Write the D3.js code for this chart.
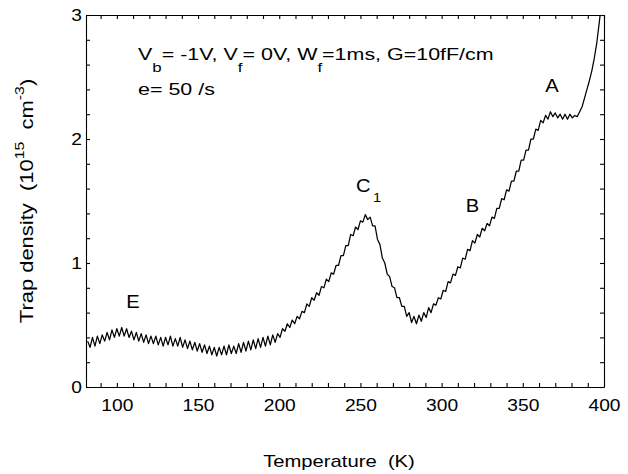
<!DOCTYPE html>
<html>
<head>
<meta charset="utf-8">
<script src="https://cdn.jsdelivr.net/npm/d3@7"></script>
<style>
  body { margin: 0; background: #fff; }
  svg { font-family: Arial, "Liberation Sans", sans-serif; }
  text { white-space: pre; }
</style>
</head>
<body>
<script>
// trap density vs temperature (DLTS style scan)

var temps = [
  82, 83.5, 85, 86.5, 88, 89.5, 91, 92.5, 94, 95.5,
  97, 98.5, 100, 101.5, 103, 104.5, 106, 107.5, 109, 110.5,
  112, 113.5, 115, 116.5, 118, 119.5, 121, 122.5, 124, 125.5,
  127, 128.5, 130, 131.5, 133, 134.5, 136, 137.5, 139, 140.5,
  142, 143.5, 145, 146.5, 148, 149.5, 151, 152.5, 154, 155.5,
  157, 158.5, 160, 161.5, 163, 164.5, 166, 167.5, 169, 170.5,
  172, 173.5, 175, 176.5, 178, 179.5, 181, 182.5, 184, 185.5,
  187, 188.5, 190, 191.5, 193, 194.5, 196, 197.5, 199, 200.5,
  202, 203.5, 205, 206.5, 208, 209.5, 211, 212.5, 214, 215.5,
  217, 218.5, 220, 221.5, 223, 224.5, 226, 227.5, 229, 230.5,
  232, 233.5, 235, 236.5, 238, 239.5, 241, 242.5, 244, 245.5,
  247, 248.5, 250, 251.5, 253, 254.5, 256, 257.5, 259, 260.5,
  262, 263.5, 265, 266.5, 268, 269.5, 271, 272.5, 274, 275.5,
  277, 278.5, 280, 281.5, 283, 284.5, 286, 287.5, 289, 290.5,
  292, 293.5, 295, 296.5, 298, 299.5, 301, 302.5, 304, 305.5,
  307, 308.5, 310, 311.5, 313, 314.5, 316, 317.5, 319, 320.5,
  322, 323.5, 325, 326.5, 328, 329.5, 331, 332.5, 334, 335.5,
  337, 338.5, 340, 341.5, 343, 344.5, 346, 347.5, 349, 350.5,
  352, 353.5, 355, 356.5, 358, 359.5, 361, 362.5, 364, 365.5,
  367, 368.5, 370, 371.5, 373, 374.5, 376, 377.5, 379, 380.5,
  382, 383.5, 385, 386.5, 388, 389.5, 391, 392.5, 394, 395.5,
  397, 398.5
];

var density = [
  0.37, 0.32, 0.40, 0.33, 0.41, 0.35, 0.42, 0.37, 0.44, 0.38,
  0.46, 0.40, 0.47, 0.41, 0.48, 0.41, 0.47, 0.40, 0.45, 0.38,
  0.44, 0.37, 0.43, 0.36, 0.42, 0.35, 0.41, 0.35, 0.41, 0.34,
  0.40, 0.33, 0.40, 0.34, 0.41, 0.33, 0.39, 0.33, 0.40, 0.32,
  0.38, 0.31, 0.37, 0.30, 0.36, 0.29, 0.35, 0.28, 0.34, 0.27,
  0.33, 0.26, 0.32, 0.25, 0.32, 0.26, 0.33, 0.26, 0.34, 0.27,
  0.33, 0.27, 0.35, 0.28, 0.36, 0.29, 0.37, 0.30, 0.38, 0.31,
  0.39, 0.32, 0.40, 0.33, 0.41, 0.34, 0.42, 0.36, 0.43, 0.40,
  0.47, 0.45, 0.51, 0.48, 0.54, 0.51, 0.57, 0.55, 0.61, 0.60,
  0.67, 0.65, 0.72, 0.70, 0.76, 0.74, 0.81, 0.80, 0.87, 0.85,
  0.92, 0.91, 0.98, 0.98, 1.06, 1.06, 1.14, 1.14, 1.23, 1.22,
  1.29, 1.27, 1.34, 1.33, 1.39, 1.35, 1.37, 1.30, 1.30, 1.19,
  1.15, 1.04, 1.00, 0.91, 0.89, 0.81, 0.80, 0.72, 0.72, 0.65,
  0.65, 0.57, 0.60, 0.52, 0.57, 0.51, 0.58, 0.53, 0.60, 0.56,
  0.64, 0.60, 0.67, 0.66, 0.72, 0.71, 0.78, 0.77, 0.85, 0.84,
  0.91, 0.90, 0.97, 0.96, 1.04, 1.03, 1.11, 1.10, 1.18, 1.16,
  1.23, 1.21, 1.28, 1.26, 1.32, 1.30, 1.37, 1.36, 1.44, 1.44,
  1.52, 1.51, 1.59, 1.58, 1.66, 1.66, 1.74, 1.74, 1.83, 1.83,
  1.91, 1.91, 2.00, 2.00, 2.08, 2.07, 2.15, 2.13, 2.19, 2.16,
  2.22, 2.18, 2.21, 2.17, 2.20, 2.16, 2.20, 2.16, 2.20, 2.17,
  2.19, 2.18, 2.22, 2.26, 2.33, 2.40, 2.47, 2.55, 2.65, 2.77,
  2.93, 3.10
];

// peak labels
var peakNames = ["E", "C", "B", "A"];
var peakSubs  = ["", "1", "", ""];
var peakT     = [110, 255, 319, 368];
var peakV     = [0.64, 1.57, 1.41, 2.38];

var xTicks = d3.range(90, 401, 10);
var xLabels = [100, 150, 200, 250, 300, 350, 400];
var yTicks = d3.range(0, 16).map(function(i) { return i / 5; });
var yLabels = [0, 1, 2, 3];

// the printed font is wider than Arial, stretch the glyphs a bit
var stretch = 1.2;

var margin = {top: 15, right: 24, bottom: 87, left: 86},
    width = 628 - margin.left - margin.right,
    height = 474 - margin.top - margin.bottom;

var svg = d3.select('body').append('svg')
  .attr('width', 628)
  .attr('height', 474);

var g = svg.append('g')
  .attr('transform', 'translate(' + margin.left + ',' + margin.top + ')');

var x = d3.scaleLinear().domain([81, 400]).range([0, width]);
var y = d3.scaleLinear().domain([0, 3]).range([height, 0]);

function xFmt(d) { return xLabels.indexOf(d) >= 0 ? d : ''; }
function yFmt(d) { return yLabels.indexOf(Math.round(d * 100) / 100) >= 0 ? Math.round(d) : ''; }

// put a text at (px,py) and widen it horizontally
function wideText(parent, px, py, sx) {
  return parent.append('text')
    .attr('transform', 'translate(' + px + ',' + py + ') scale(' + sx + ',1)');
}

// axes, ticks point inward
g.append('g')
  .attr('class', 'axis')
  .attr('transform', 'translate(0,' + height + ')')
  .call(d3.axisBottom(x).tickValues(xTicks).tickSizeInner(-4).tickSizeOuter(0).tickPadding(13).tickFormat(xFmt));

g.append('g')
  .attr('class', 'axis')
  .call(d3.axisTop(x).tickValues(xTicks).tickSizeInner(-4).tickSizeOuter(0).tickFormat(''));

g.append('g')
  .attr('class', 'axis yleft')
  .call(d3.axisLeft(y).tickValues(yTicks).tickSizeInner(-4).tickSizeOuter(0).tickPadding(4).tickFormat(yFmt));

g.append('g')
  .attr('class', 'axis')
  .attr('transform', 'translate(' + width + ',0)')
  .call(d3.axisRight(y).tickValues(yTicks).tickSizeInner(-4).tickSizeOuter(0).tickFormat(''));

g.selectAll('.axis text')
  .attr('font-size', 16)
  .attr('font-family', 'Arial, "Liberation Sans", sans-serif')
  .attr('fill', '#000')
  .attr('transform', 'scale(' + stretch + ',1)');
g.selectAll('.yleft text').attr('x', -4 / stretch);
g.selectAll('.axis path, .axis line').attr('stroke', '#000').attr('stroke-width', 1.1);

// the curve
g.append('clipPath').attr('id', 'clip')
  .append('rect').attr('width', width).attr('height', height);

var line = d3.line()
  .x(function(d, i) { return x(temps[i]); })
  .y(function(d) { return y(d); });

g.append('path')
  .datum(density)
  .attr('clip-path', 'url(#clip)')
  .attr('fill', 'none')
  .attr('stroke', '#000')
  .attr('stroke-width', 1.25)
  .attr('stroke-linejoin', 'round')
  .attr('d', line);

// peak labels
peakNames.forEach(function(name, i) {
  var t = wideText(g, x(peakT[i]), y(peakV[i]), 1.12)
    .attr('font-size', 18)
    .attr('text-anchor', 'middle');
  t.append('tspan').text(name);
  if (peakSubs[i]) {
    t.append('tspan').attr('font-size', 13).attr('dx', 2).attr('dy', 10).text(peakSubs[i]);
  }
});

// measurement conditions
var cond = wideText(g, 52, 45, 1.3).attr('font-size', 16.5);
var parts = [["V", 0], ["b", 1], ["= -1V, V", 0], ["f", 1], ["= 0V, W", 0], ["f", 1], ["=1ms, G=10fF/cm", 0]];
var shifted = false;
parts.forEach(function(p) {
  var ts = cond.append('tspan').text(p[0]);
  if (p[1] && !shifted) { ts.attr('dy', 12).attr('font-size', 13); shifted = true; }
  else if (!p[1] && shifted) { ts.attr('dy', -12); shifted = false; }
});

wideText(g, 52, 80, 1.3)
  .attr('font-size', 16.5)
  .text('e= 50 /s');

// axis titles
wideText(svg, 339, 467, 1.19)
  .attr('text-anchor', 'middle')
  .attr('font-size', 17)
  .text('Temperature  (K)');

var yt = svg.append('text')
  .attr('transform', 'translate(33,' + (margin.top + height / 2) + ') rotate(-90) scale(1.22,1)')
  .attr('text-anchor', 'middle')
  .attr('font-size', 18);
yt.append('tspan').text('Trap density  (10');
yt.append('tspan').attr('font-size', 13).attr('dy', -9).text('15');
yt.append('tspan').attr('dy', 9).text('  cm');
yt.append('tspan').attr('font-size', 13).attr('dy', -9).text('-3');
yt.append('tspan').attr('dy', 9).text(')');
</script>
</body>
</html>
